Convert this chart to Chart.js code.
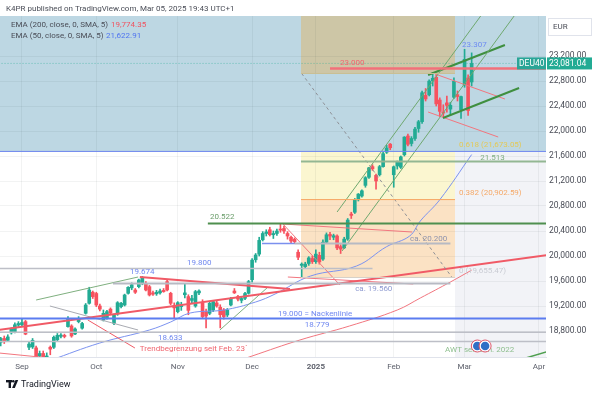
<!DOCTYPE html>
<html>
<head>
<meta charset="utf-8">
<script src="https://cdn.jsdelivr.net/npm/chart.js@4.4.1/dist/chart.umd.min.js"></script>
<style>
  html, body { margin: 0; padding: 0; background: #fff; }
  canvas { display: block; }
</style>
</head>
<body>
<canvas id="chart" width="600" height="394"></canvas>
<script>
// daily candles, first one is 6 bars before Sep 2 2024
const firstBar = -6;
const open = [18620,18680,18650,18770,18790,18895,18900,18950,18540,18545,18530,18400,18440,18330,18540,18540,18660,18715,18730,18870,18880,18752,18950,18845,19083,19243,19420,19400,19200,18976,19003,19150,18923,19072,19190,19216,19403,19490,19456,19509,19560,19563,19509,19410,19395,19410,19450,19590,19403,19200,19110,19190,19380,19350,19290,19200,19410,19250,19110,19083,19136,19250,19180,19136,19056,19216,19440,19350,19290,19323,19403,19620,19940,20030,20260,20360,20420,20340,20360,20430,20440,20360,20300,20270,20060,19850,19830,19880,19960,19910,20010,19950,20220,20345,20300,20320,20150,20130,20270,20670,20700,20900,20960,21130,21260,21430,21290,21300,21430,21660,21790,21300,21440,21420,21620,21920,21800,21880,22040,22150,22570,22580,22800,22860,22496,22300,22450,22350,22540,22580,22340,22736,22848,22784];
const high = [18700,18720,18740,18850,18930,18950,18990,18970,18620,18680,18560,18480,18480,18450,18560,18720,18760,18760,18750,19030,18900,18850,19030,18940,19240,19500,19440,19420,19230,19136,19130,19170,19070,19270,19260,19390,19510,19570,19480,19630,19674,19590,19530,19440,19450,19470,19480,19620,19420,19250,19270,19260,19560,19380,19370,19450,19460,19300,19150,19270,19290,19280,19220,19160,19160,19340,19480,19370,19340,19420,19610,19960,20040,20300,20390,20420,20460,20400,20430,20522,20480,20390,20320,20290,20100,19890,19900,19990,20000,20100,20060,20260,20370,20380,20350,20340,20180,20300,20600,20700,20920,21000,21060,21270,21420,21460,21310,21450,21660,21770,21800,21440,21520,21600,21910,21950,21910,22060,22170,22640,22680,22820,22935,22900,22530,22420,22560,22460,22850,22640,22560,23307,22900,23250];
const low = [18560,18600,18630,18750,18770,18870,18880,18740,18500,18520,18300,18300,18200,18220,18420,18520,18640,18690,18690,18860,18700,18740,18930,18830,19070,19230,19320,19190,19120,18960,18990,19060,18900,19050,19170,19200,19390,19460,19400,19490,19540,19440,19360,19370,19370,19390,19420,19440,19220,19000,19090,19130,19330,19060,19250,19180,19380,19000,18850,19060,19110,19180,18850,18990,19030,19200,19400,19280,19250,19300,19390,19580,19900,20000,20240,20320,20320,20280,20330,20380,20360,20270,20200,20200,19940,19660,19800,19850,19880,19880,19870,19930,20200,20260,20260,20100,20040,20120,20250,20600,20680,20880,20940,21100,21240,21370,21070,21280,21420,21640,21700,21100,21390,21400,21600,21760,21760,21850,21980,22120,22480,22560,22720,22400,22230,22230,22300,22250,22520,22480,22200,22700,22250,22720];
const close = [18680,18640,18705,18830,18900,18920,18935,18750,18590,18650,18390,18440,18270,18400,18510,18700,18730,18735,18712,19000,18720,18832,19000,18920,19216,19456,19350,19216,19150,19083,19110,19085,19056,19253,19243,19376,19499,19540,19420,19616,19650,19456,19376,19390,19420,19440,19430,19456,19243,19170,19253,19220,19410,19130,19320,19430,19440,19030,19040,19243,19270,19200,19060,19030,19136,19323,19410,19310,19320,19400,19590,19934,20016,20250,20360,20385,20340,20360,20400,20415,20400,20320,20240,20230,19980,19870,19870,19970,19910,20030,19905,20220,20340,20320,20325,20130,20110,20270,20575,20650,20903,20990,21043,21254,21411,21394,21200,21430,21637,21727,21732,21428,21505,21586,21902,21787,21880,22030,22148,22612,22513,22798,22844,22434,22314,22287,22410,22410,22795,22551,22551,23147,22327,23081];

// moving averages, read at a few bars
const ema50Bars = [8, 22, 36, 42, 47.5, 57, 66, 71.5, 81.5, 94.5, 103, 109.5, 112.5, 118, 127];
const ema50Values = [18330, 18608, 18816, 18944, 19088, 19136, 19264, 19392, 19680, 19840, 20150, 20320, 20560, 20900, 21622.91];
const ema200Bars = [60, 65, 78.5, 92.5, 106, 112.5, 121, 127];
const ema200Values = [18300, 18400, 18656, 18880, 19136, 19328, 19584, 19774.35];

// fibonacci retracement levels (0, 0.382, 0.618, 1, 1.618) and its bar span
const fibPrices = [19655.47, 20902.59, 21673.05, 22920.2, 24937.8];
const fibBars = [78.8, 122.3];

// time and price axes
const monthTicks = [0, 21, 44, 65, 83, 105, 125, 146];
const monthLabels = ['Sep', 'Oct', 'Nov', 'Dec', '2025', 'Feb', 'Mar', 'Apr'];
const priceTicks = [18800, 19200, 19600, 20000, 20400, 20800, 21200, 21600, 22000, 22400, 22800, 23200];
const lastPrice = 23081.04;

const up = '#22ab94', down = '#f7525f';
const bars = open.map((_, i) => firstBar + i);
const candleColors = bars.map((_, i) => close[i] >= open[i] ? up : down);

// drawings: [bar1, price1, bar2, price2, color, width, dash]
const drawings = [
  [-10, lastPrice, 150, lastPrice, 'rgba(34,171,148,0.55)', 1, [1, 2]],
  [-10, 21673.05, 150, 21673.05, '#6d86ee', 1],
  [-10, 19000, 150, 19000, '#5b7cf0', 2],
  [-10, 18779, 150, 18779, '#bdbfc7', 1.5],
  [-10, 18633, 150, 18633, '#bdbfc7', 1.5],
  [-10, 19800, 99, 19800, '#bdbfc7', 1.5],
  [25.7, 19560, 121, 19560, '#b7bac3', 2],
  [67.8, 20200, 77, 20200, '#7b90ee', 1.5],
  [77, 20200, 121, 20200, '#b7bac3', 2],
  [52.5, 20522, 150, 20522, '#4f8f4f', 2],
  [78.8, 21513, 150, 21513, '#93b793', 2],
  [87, 23000, 150, 23000, '#f2707a', 2.5],
  [78.8, 20902.59, 122.3, 20902.59, '#f6a561', 1],
  [78.8, 22920.2, 122.3, 22920.2, '#c9bf93', 1],
  [78.8, 19655.47, 122.3, 19655.47, '#d6d0c8', 1],
  [79, 22920.2, 121.5, 19655.47, '#8e9096', 1, [3, 3]],
  [-6.5, 18816, 148.5, 20016, '#f05a66', 2],
  [18.6, 18976, 31.9, 18528, '#f05a66', 1],
  [4, 19296, 32.8, 19664, '#7fb07f', 1],
  [7.9, 19200, 32.8, 18816, '#a9abb2', 1],
  [33.3, 19664, 75.7, 19472, '#f05a66', 2],
  [55.9, 18816, 69.5, 19504, '#7fb07f', 1],
  [73.7, 20512, 89.8, 19536, '#f2767f', 1],
  [73.7, 20512, 110.2, 20384, '#f2767f', 1],
  [75.1, 19664, 110.5, 19552, '#f2767f', 1],
  [89, 20704, 131, 23952, '#6fa86f', 1],
  [90.4, 20080, 139, 23840, '#6fa86f', 1],
  [114.7, 22896, 136.4, 23376, '#3f8f3f', 2],
  [118.9, 22208, 140.4, 22688, '#3f8f3f', 2],
  [116.7, 22912, 136.4, 22512, '#f2767f', 1],
  [114.7, 22304, 134.5, 21904, '#f2767f', 1],
  [-6.5, 18448, 20, 18300, '#f2767f', 1],
  [140, 18330, 149, 18480, '#4f9f4f', 1.5]
];

// text notes: [text, bar, price, color]
const notes = [
  ['23.000', 89.8, 23088, '#f0656f'],
  ['23.307', 124.3, 23376, '#6f8cf2'],
  ['21.513', 129.4, 21568, '#7fae7f'],
  ['20.522', 53.1, 20624, '#6b9e6b'],
  ['ca. 20.200', 109.6, 20272, '#8e93ad'],
  ['19.800', 46.6, 19888, '#7088f0'],
  ['19.674', 30.5, 19744, '#7088f0'],
  ['ca. 19.560', 94.1, 19472, '#8e9ad0'],
  ['19.000 = Nackenlinie', 72.3, 19072, '#7088f0'],
  ['18.779', 79.9, 18896, '#7088f0'],
  ['18.633', 38.4, 18688, '#7088f0'],
  ['Trendbegrenzung seit Feb. 23´', 33.3, 18512, '#f0656f'],
  ['0.618 (21,673.05)', 123.4, 21776, '#e3c957'],
  ['0.382 (20,902.59)', 123.4, 21008, '#f5a968'],
  ['0 (19,655.47)', 123.4, 19760, '#c9cbd3'],
  ['AWT seit Jan. 2022', 119.5, 18496, '#8fbf8f']
];

const FONT = 'Roboto, "Noto Sans", sans-serif';
Chart.defaults.font.family = FONT;

const lineSets = drawings.map(d => ({
  type: 'line',
  data: [{x: d[0], y: d[1]}, {x: d[2], y: d[3]}],
  borderColor: d[4],
  borderWidth: d[5],
  borderDash: d[6] || [],
  pointRadius: 0,
  order: 1
}));

const backdrop = {
  id: 'backdrop',
  beforeDraw(chart) {
    const {ctx, chartArea: a, scales: {x, y}} = chart;
    ctx.save();
    ctx.fillStyle = '#fff';
    ctx.fillRect(0, 0, chart.width, chart.height);
    ctx.beginPath();
    ctx.rect(a.left, a.top, a.right - a.left, a.bottom - a.top);
    ctx.clip();
    const box = (b1, p1, b2, p2, color) => {
      const x1 = x.getPixelForValue(b1), x2 = x.getPixelForValue(b2);
      const y1 = y.getPixelForValue(p1), y2 = y.getPixelForValue(p2);
      ctx.fillStyle = color;
      ctx.fillRect(Math.min(x1, x2), Math.min(y1, y2), Math.abs(x2 - x1), Math.abs(y2 - y1));
    };
    box(-10, fibPrices[2], 150, 30000, '#bdd7e3');
    box(fibBars[1], 10000, 150, fibPrices[2], '#f2f3f7');
    box(fibBars[0], fibPrices[3], fibBars[1], fibPrices[4], '#cdc6a6');
    box(fibBars[0], fibPrices[1], fibBars[1], fibPrices[2], '#fbf6d0');
    box(fibBars[0], fibPrices[0], fibBars[1], fibPrices[1], '#fbe2c4');
    ctx.restore();
  },
  afterDatasetsDraw(chart) {
    const {ctx, scales: {x, y}} = chart;
    ctx.save();
    ctx.font = '8px ' + FONT;
    ctx.textBaseline = 'middle';
    notes.forEach(n => {
      ctx.fillStyle = n[3];
      ctx.fillText(n[0], x.getPixelForValue(n[1]), y.getPixelForValue(n[2]));
    });
    // two round avatars over the AWT note
    [128.6, 130.8].forEach(b => {
      const cx = x.getPixelForValue(b), cy = y.getPixelForValue(18560);
      ctx.beginPath();
      ctx.arc(cx, cy, 6, 0, Math.PI * 2);
      ctx.fillStyle = '#fff';
      ctx.fill();
      ctx.lineWidth = 1;
      ctx.strokeStyle = '#e0566a';
      ctx.stroke();
      ctx.beginPath();
      ctx.arc(cx, cy, 4.3, 0, Math.PI * 2);
      ctx.fillStyle = '#2f6fc6';
      ctx.fill();
    });
    ctx.restore();
  },
  afterDraw(chart) {
    const {ctx, scales: {y}} = chart;
    ctx.save();
    ctx.textBaseline = 'middle';
    ctx.font = '8px ' + FONT;
    ctx.fillStyle = '#4a4d57';
    ctx.fillText('K4PR published on TradingView.com, Mar 05, 2025 19:43 UTC+1', 6, 9);
    ctx.fillStyle = '#4a4d57';
    ctx.fillText('EMA (200, close, 0, SMA, 5)', 11, 25);
    ctx.fillText('EMA (50, close, 0, SMA, 5)', 11, 36);
    ctx.fillStyle = '#f0525f';
    ctx.fillText('19,774.35', 111, 25);
    ctx.fillStyle = '#4f74f0';
    ctx.fillText('21,622.91', 106, 36);

    // currency box
    ctx.fillStyle = '#fff';
    ctx.fillRect(548.5, 18.5, 43, 17);
    ctx.strokeStyle = '#e0e3eb';
    ctx.lineWidth = 1;
    ctx.strokeRect(548.5, 18.5, 43, 17);
    ctx.fillStyle = '#4a4d57';
    ctx.fillText('EUR', 553, 27);

    // last price badges
    const py = y.getPixelForValue(lastPrice);
    ctx.fillStyle = '#2aa597';
    ctx.fillRect(517, py - 6, 29, 12);
    ctx.fillStyle = '#22ab94';
    ctx.fillRect(547, py - 6, 45, 12);
    ctx.fillStyle = '#fff';
    ctx.font = '8.5px ' + FONT;
    ctx.fillText('DEU40', 519, py);
    ctx.fillText('23,081.04', 549, py);

    // footer logo
    ctx.fillStyle = '#131722';
    ctx.fillRect(6, 380, 6, 2.4);
    ctx.fillRect(8.6, 380, 2.4, 8);
    ctx.beginPath();
    ctx.arc(13.3, 381.3, 1.3, 0, Math.PI * 2);
    ctx.fill();
    ctx.beginPath();
    ctx.moveTo(15.5, 380);
    ctx.lineTo(18.2, 380);
    ctx.lineTo(14.8, 388);
    ctx.lineTo(12.1, 388);
    ctx.closePath();
    ctx.fill();
    ctx.font = '9px ' + FONT;
    ctx.fillText('TradingView', 21, 384.5);
    ctx.restore();
  }
};

new Chart(document.getElementById('chart'), {
  type: 'bar',
  data: {
    datasets: [
      {
        data: bars.map((b, i) => ({x: b, y: [low[i], high[i]]})),
        backgroundColor: candleColors,
        barThickness: 1,
        grouped: false,
        order: 6
      },
      {
        data: bars.map((b, i) => ({x: b, y: [open[i], close[i]]})),
        backgroundColor: candleColors,
        barThickness: 3,
        minBarLength: 1,
        grouped: false,
        order: 5
      },
      {
        type: 'line',
        data: ema50Bars.map((b, i) => ({x: b, y: ema50Values[i]})),
        borderColor: '#7c93f0',
        borderWidth: 1,
        tension: 0.4,
        pointRadius: 0,
        order: 2
      },
      {
        type: 'line',
        data: ema200Bars.map((b, i) => ({x: b, y: ema200Values[i]})),
        borderColor: '#f2767f',
        borderWidth: 1,
        tension: 0.4,
        pointRadius: 0,
        order: 2
      },
      ...lineSets
    ]
  },
  options: {
    responsive: false,
    animation: false,
    devicePixelRatio: 1,
    layout: {padding: {top: 16, bottom: 22, left: 0, right: 0}},
    plugins: {legend: {display: false}, tooltip: {enabled: false}},
    scales: {
      x: {
        type: 'linear',
        offset: false,
        min: -6.2,
        max: 148,
        afterBuildTicks: s => { s.ticks = monthTicks.map(v => ({value: v})); },
        afterFit: s => { s.height = 15; },
        grid: {color: 'rgba(42,46,57,0.06)', drawTicks: false, offset: false},
        border: {display: true, color: '#e0e3eb'},
        ticks: {
          autoSkip: false,
          maxRotation: 0,
          padding: 5,
          color: '#5d606b',
          font: c => ({size: 8, weight: c.tick && c.tick.value === 83 ? 'bold' : 'normal'}),
          callback: v => monthLabels[monthTicks.indexOf(v)] || ''
        }
      },
      y: {
        position: 'right',
        min: 18384,
        max: 23840,
        afterBuildTicks: s => { s.ticks = priceTicks.map(v => ({value: v})); },
        afterFit: s => { s.width = 54; },
        grid: {color: 'rgba(42,46,57,0.06)', drawTicks: false},
        border: {display: false},
        ticks: {
          padding: 3,
          color: '#4a4d57',
          font: {size: 8.5},
          callback: v => v.toLocaleString('en-US', {minimumFractionDigits: 2, maximumFractionDigits: 2})
        }
      }
    }
  },
  plugins: [backdrop]
});
</script>
</body>
</html>
